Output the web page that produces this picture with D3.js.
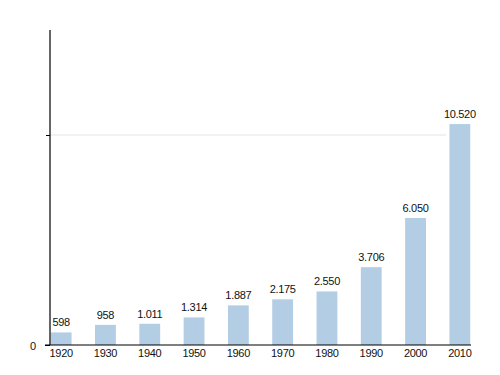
<!DOCTYPE html>
<html>
<head>
<meta charset="utf-8">
<script src="https://cdn.jsdelivr.net/npm/d3@7"></script>
<style>
  body { margin: 0; background: #fff; }
  text { font-family: "Liberation Sans", Arial, sans-serif; }
</style>
</head>
<body>
<div id="chart"></div>
<script>
var years = ["1920", "1930", "1940", "1950", "1960", "1970", "1980", "1990", "2000", "2010"];
var population = [598, 958, 1011, 1314, 1887, 2175, 2550, 3706, 6050, 10520];
var yTicks = [0, 10000];
var yTickLabels = ["0", ""];

var width = 500, height = 375;
var baseY = 345, topY = 30;

var svg = d3.select("#chart").append("svg")
    .attr("width", width)
    .attr("height", height);

var x = d3.scaleBand()
    .domain(years)
    .range([39, 482])
    .paddingInner(0.53)
    .paddingOuter(0.265);

var y = d3.scaleLinear()
    .domain([0, 15000])
    .range([baseY, topY]);

var de = d3.formatLocale({ decimal: ",", thousands: ".", grouping: [3], currency: ["", "€"] });
var fmt = de.format(",d");

// gridline at 10000
svg.append("line")
    .attr("x1", 50).attr("x2", 446)
    .attr("y1", y(10000)).attr("y2", y(10000))
    .attr("stroke", "#e4e4e4")
    .attr("stroke-width", 1);

// bars
svg.selectAll("rect.bar")
    .data(population)
    .enter().append("rect")
    .attr("class", "bar")
    .attr("x", (d, i) => x(years[i]))
    .attr("width", x.bandwidth())
    .attr("y", d => y(d))
    .attr("height", d => baseY - y(d))
    .attr("fill", "#b3cde4");

// value labels
svg.selectAll("text.val")
    .data(population)
    .enter().append("text")
    .attr("class", "val")
    .attr("x", (d, i) => x(years[i]) + x.bandwidth() / 2)
    .attr("y", d => y(d) - 6)
    .attr("text-anchor", "middle")
    .attr("font-size", 11)
    .attr("letter-spacing", -0.3)
    .attr("fill", "#111")
    .text(d => fmt(d));

// y axis
var yAxis = svg.append("g")
    .attr("transform", "translate(50,0)")
    .call(d3.axisLeft(y).tickValues(yTicks).tickSize(4).tickFormat((d, i) => yTickLabels[i]));
yAxis.select(".domain").remove();
yAxis.selectAll(".tick text").attr("font-size", 11).attr("fill", "#111").attr("dx", -7).attr("dy", "0.4em");
yAxis.select(".tick line").attr("x2", -5);
svg.append("line")
    .attr("x1", 50).attr("x2", 50)
    .attr("y1", topY).attr("y2", baseY)
    .attr("stroke", "#000").attr("stroke-width", 1.2);

// x axis
var xAxis = svg.append("g")
    .attr("transform", "translate(0," + baseY + ")")
    .call(d3.axisBottom(x).tickSize(0).tickPadding(4));
xAxis.select(".domain").remove();
xAxis.selectAll(".tick text").attr("font-size", 11).attr("letter-spacing", -0.3).attr("fill", "#111");
svg.append("line")
    .attr("x1", 45).attr("x2", 471)
    .attr("y1", baseY).attr("y2", baseY)
    .attr("stroke", "#000").attr("stroke-width", 1.2);
</script>
</body>
</html>
